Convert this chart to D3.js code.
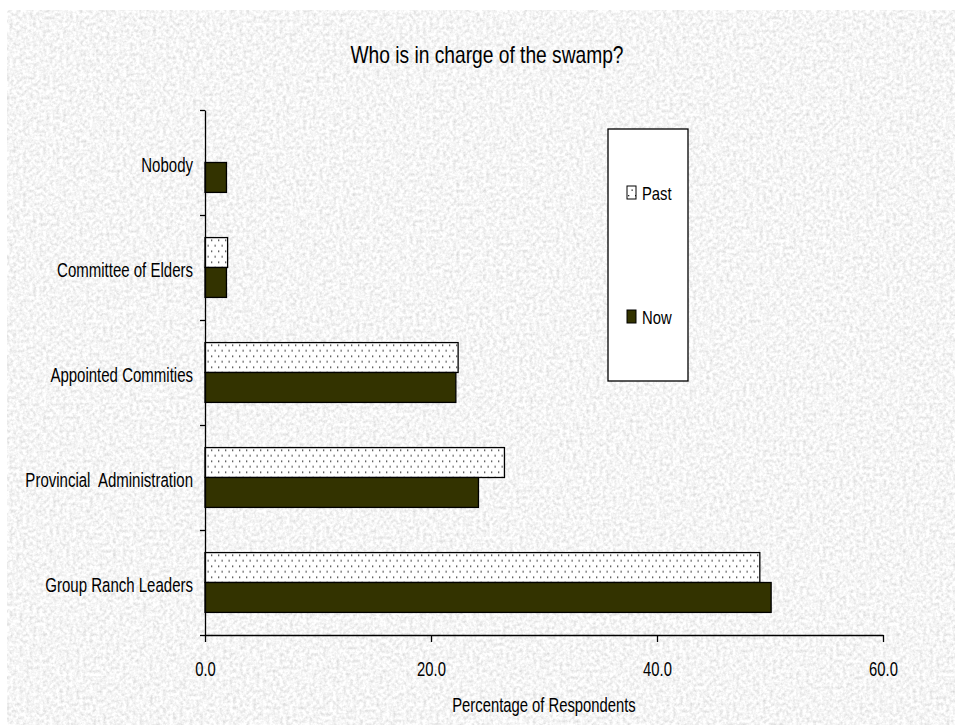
<!DOCTYPE html>
<html>
<head>
<meta charset="utf-8">
<script src="https://cdn.jsdelivr.net/npm/d3@7"></script>
<style>
  body { margin: 0; background: #fff; }
  text { font-family: "Liberation Sans", Arial, sans-serif; fill: #000; }
</style>
</head>
<body>
<div id="chart"></div>
<script>

// data
var categories = ["Nobody", "Committee of Elders", "Appointed Commities", "Provincial  Administration", "Group Ranch Leaders"];
var seriesNames = ["Past", "Now"];
var pastValues = [0, 2.0, 22.4, 26.5, 49.1];
var nowValues = [1.9, 1.9, 22.2, 24.2, 50.1];
var xTicks = [0, 20, 40, 60];

var width = 955, height = 725;
var margin = { top: 110, right: 72, bottom: 90, left: 205 };
var squeeze = 0.77; // the original text is a condensed face

var svg = d3.select("#chart")
    .append("svg")
    .attr("width", width)
    .attr("height", height);

var defs = svg.append("defs");

// granite-like background texture
var filter = defs.append("filter")
    .attr("id", "granite")
    .attr("x", 0).attr("y", 0)
    .attr("width", "100%").attr("height", "100%");
filter.append("feTurbulence")
    .attr("type", "fractalNoise")
    .attr("baseFrequency", 0.3)
    .attr("numOctaves", 3)
    .attr("seed", 4);
filter.append("feColorMatrix")
    .attr("type", "matrix")
    .attr("values", "0.55 0 0 0 0.64  0.55 0 0 0 0.64  0.55 0 0 0 0.64  0 0 0 0 1");

// dotted fill for the Past series
var dots = defs.append("pattern")
    .attr("id", "dots")
    .attr("patternUnits", "userSpaceOnUse")
    .attr("width", 7)
    .attr("height", 11);
dots.append("rect").attr("width", 7).attr("height", 11).attr("fill", "#fff");
dots.append("rect").attr("x", 1).attr("y", 2).attr("width", 1.3).attr("height", 1.3).attr("fill", "#222");
dots.append("rect").attr("x", 4.5).attr("y", 7.5).attr("width", 1.3).attr("height", 1.3).attr("fill", "#222");

svg.append("rect")
    .attr("x", 7).attr("y", 10)
    .attr("width", width - 7).attr("height", height - 10)
    .attr("filter", "url(#granite)");

var data = categories.map(function(c, i) {
    return { category: c, Past: pastValues[i], Now: nowValues[i] };
});

var x = d3.scaleLinear()
    .domain([0, 60])
    .range([margin.left, width - margin.right]);

var y = d3.scaleBand()
    .domain(categories)
    .range([margin.top, height - margin.bottom])
    .paddingInner(0.43)
    .paddingOuter(0.215);

var ySub = d3.scaleBand()
    .domain(seriesNames)
    .range([0, y.bandwidth()]);

var fills = { Past: "url(#dots)", Now: "#333300" };

function place(px, py, sx) {
    return "translate(" + px + "," + py + ") scale(" + sx + ",1)";
}

// title
svg.append("text")
    .attr("transform", place(487, 63, 0.8))
    .attr("text-anchor", "middle")
    .style("font-size", "24px")
    .text("Who is in charge of the swamp?");

// bars
var groups = svg.selectAll(".group")
    .data(data)
    .enter()
    .append("g")
    .attr("class", "group")
    .attr("transform", function(d) { return "translate(0," + y(d.category) + ")"; });

groups.selectAll("rect")
    .data(function(d) {
        return seriesNames
            .map(function(s) { return { series: s, value: d[s] }; })
            .filter(function(e) { return e.value > 0; });
    })
    .enter()
    .append("rect")
    .attr("x", x(0))
    .attr("y", function(d) { return ySub(d.series); })
    .attr("width", function(d) { return x(d.value) - x(0); })
    .attr("height", ySub.bandwidth())
    .attr("fill", function(d) { return fills[d.series]; })
    .attr("stroke", "#000")
    .attr("stroke-width", 1.3);

// y axis: ticks on the band edges, labels in the middle
var yEdges = d3.scaleLinear()
    .domain([0, categories.length])
    .range([margin.top, height - margin.bottom]);

svg.append("g")
    .attr("transform", "translate(" + x(0) + ",0)")
    .call(d3.axisLeft(yEdges)
        .tickValues(d3.range(categories.length + 1))
        .tickFormat("")
        .tickSize(5)
        .tickSizeOuter(0))
    .call(function(g) {
        g.selectAll("path, line").attr("stroke", "#000").attr("stroke-width", 1.3);
    });

svg.selectAll(".cat-label")
    .data(categories)
    .enter()
    .append("text")
    .attr("class", "cat-label")
    .attr("transform", function(d) { return place(193, y(d) + y.bandwidth() / 2 + 9, squeeze); })
    .attr("text-anchor", "end")
    .style("font-size", "19.5px")
    .style("white-space", "pre")
    .text(function(d) { return d; });

// x axis
var xAxis = svg.append("g")
    .attr("transform", "translate(0," + (height - margin.bottom) + ")")
    .call(d3.axisBottom(x)
        .tickValues(xTicks)
        .tickFormat(d3.format(".1f"))
        .tickSize(7)
        .tickSizeOuter(0)
        .tickPadding(20));
xAxis.selectAll("path, line").attr("stroke", "#000").attr("stroke-width", 1.3);
xAxis.selectAll("text")
    .style("font-size", "20px")
    .attr("font-family", null)
    .attr("fill", "#000")
    .attr("transform", "scale(0.74,1)");

svg.append("text")
    .attr("transform", place((x(0) + x(60)) / 2, 712, 0.76))
    .attr("text-anchor", "middle")
    .style("font-size", "19.5px")
    .text("Percentage of Respondents");

// legend
var legend = svg.append("g");
legend.append("rect")
    .attr("x", 608).attr("y", 129)
    .attr("width", 80).attr("height", 252)
    .attr("fill", "#fff")
    .attr("stroke", "#000")
    .attr("stroke-width", 1.3);

var legendY = { Past: 193, Now: 317 };
var items = legend.selectAll(".item")
    .data(seriesNames)
    .enter()
    .append("g")
    .attr("class", "item")
    .attr("transform", function(d) { return "translate(627," + legendY[d] + ")"; });
items.append("rect")
    .attr("x", 0).attr("y", -7)
    .attr("width", 9).attr("height", 13)
    .attr("fill", function(d) { return fills[d]; })
    .attr("stroke", "#000")
    .attr("stroke-width", 1);
items.append("text")
    .attr("transform", place(15, 7, 0.8))
    .style("font-size", "18.5px")
    .text(function(d) { return d; });

</script>
</body>
</html>
